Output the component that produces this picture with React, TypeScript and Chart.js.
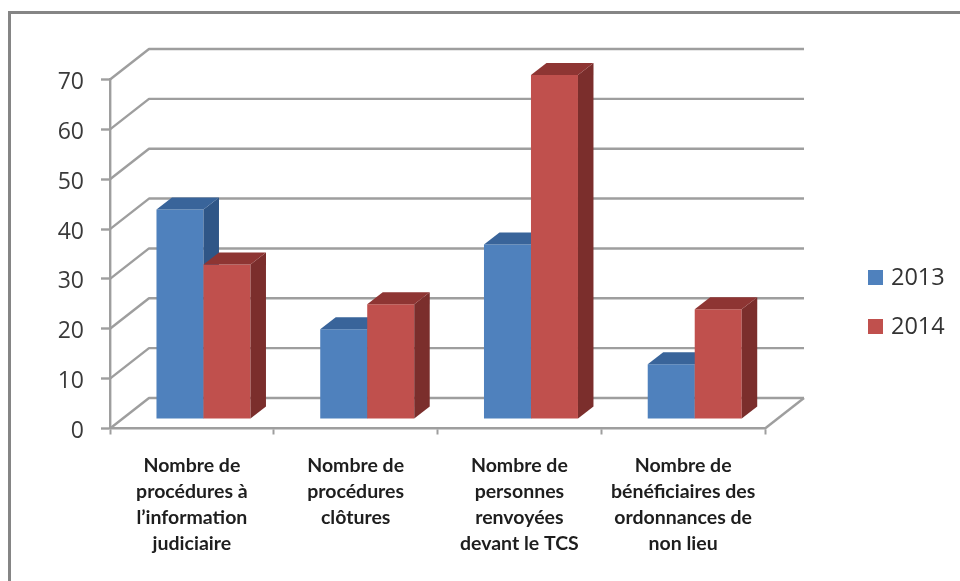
import React, { useEffect, useRef } from "react";
import { Chart, registerables } from "chart.js";

Chart.register(...registerables);

const categories = [
  ["Nombre de", "procédures à", "l’information", "judiciaire"],
  ["Nombre de", "procédures", "clôtures"],
  ["Nombre de", "personnes", "renvoyées", "devant le TCS"],
  ["Nombre de", "bénéficiaires des", "ordonnances de", "non lieu"],
];
const values2013 = [42, 18, 35, 11];
const values2014 = [31, 23, 69, 22];
const seriesNames = ["2013", "2014"];

const BLUE = "#4F81BD";
const RED = "#C0504D";
const GRID = "#9E9E9E";

const shiftX = 11.6;
const shiftY = -9.5;
const wallX = 39;
const wallY = -30.5;
const sideX = 15.5;
const sideY = -12;

const shades: Record<string, { side: string; top: string }> = {
  [BLUE]: { side: "#2F5687", top: "#39649A" },
  [RED]: { side: "#7B2E2C", top: "#8E3533" },
};

const poly = (ctx: CanvasRenderingContext2D, pts: number[][], fill: string) => {
  ctx.beginPath();
  pts.forEach(([x, y], i) => (i ? ctx.lineTo(x, y) : ctx.moveTo(x, y)));
  ctx.closePath();
  ctx.fillStyle = fill;
  ctx.fill();
};

const scene3d = {
  id: "scene3d",
  beforeDraw(chart: any) {
    const { ctx, width, height } = chart;
    ctx.save();
    ctx.fillStyle = "#ffffff";
    ctx.fillRect(0, 0, width, height);
    ctx.strokeStyle = "#858585";
    ctx.lineWidth = 3;
    ctx.beginPath();
    ctx.moveTo(9.5, height);
    ctx.lineTo(9.5, 12.5);
    ctx.lineTo(width, 12.5);
    ctx.stroke();
    ctx.restore();
  },
  beforeDatasetsDraw(chart: any) {
    const { ctx, chartArea, scales } = chart;
    const { left, right, bottom } = chartArea;
    ctx.save();
    ctx.strokeStyle = GRID;
    ctx.lineWidth = 2.4;
    ctx.lineJoin = "round";
    scales.y.ticks.forEach((t: any) => {
      const y = scales.y.getPixelForValue(t.value);
      ctx.beginPath();
      ctx.moveTo(left, y);
      ctx.lineTo(left + wallX, y + wallY);
      ctx.lineTo(right + wallX, y + wallY);
      ctx.stroke();
    });
    ctx.beginPath();
    ctx.moveTo(right, bottom);
    ctx.lineTo(right + wallX, bottom + wallY);
    ctx.stroke();
    ctx.restore();

    // Left-hand series first, so each bar's front covers its neighbour's side face.
    ctx.save();
    ctx.translate(shiftX, shiftY);
    chart.data.datasets.forEach((d: any, i: number) => {
      const meta = chart.getDatasetMeta(i);
      meta.controller.draw();
      const s = shades[d.backgroundColor];
      meta.data.forEach((bar: any) => {
        const l = bar.x - bar.width / 2;
        const r = bar.x + bar.width / 2;
        const t = bar.y;
        const b = bar.base;
        poly(ctx, [[r, t], [r + sideX, t + sideY], [r + sideX, b + sideY], [r, b]], s.side);
        poly(ctx, [[l, t], [l + sideX, t + sideY], [r + sideX, t + sideY], [r, t]], s.top);
      });
    });
    ctx.restore();
  },
  beforeDatasetDraw() {
    return false;
  },
  afterDraw(chart: any) {
    const { ctx } = chart;
    ctx.save();
    ctx.textBaseline = "middle";
    ctx.textAlign = "left";
    ctx.font = "23.5px 'Open Sans'";
    chart.data.datasets.forEach((d: any, i: number) => {
      const cy = 277.5 + i * 49;
      ctx.fillStyle = d.backgroundColor;
      ctx.fillRect(868, cy - 7.5, 15, 15);
      ctx.fillStyle = "#333333";
      ctx.fillText(d.label, 891, cy + 1);
    });
    ctx.restore();
  },
};

export default function App() {
  const ref = useRef<HTMLCanvasElement>(null);
  useEffect(() => {
    const chart = new Chart(ref.current as HTMLCanvasElement, {
      type: "bar",
      data: {
        labels: categories,
        datasets: [
          { label: seriesNames[0], data: values2013, backgroundColor: BLUE },
          { label: seriesNames[1], data: values2014, backgroundColor: RED },
        ],
      } as any,
      plugins: [scene3d],
      options: {
        animation: false,
        responsive: false,
        datasets: { bar: { categoryPercentage: 0.574, barPercentage: 1 } },
        layout: {
          autoPadding: false,
          padding: { left: 0, top: 79.5, right: 195, bottom: 0 },
        },
        plugins: { legend: { display: false }, title: { display: false }, tooltip: { enabled: false } },
        scales: {
          x: {
            afterFit: (s: any) => { s.height = 152.5; },
            grid: { drawOnChartArea: false, drawTicks: true, tickLength: 6, tickColor: GRID, tickWidth: 2 },
            border: { color: GRID, width: 2.4 },
            ticks: {
              autoSkip: false,
              maxRotation: 0,
              padding: 18,
              color: "#1E1E1E",
              font: { family: "Lato", size: 19.5, weight: "bold", lineHeight: 1.335 },
            },
          },
          y: {
            min: 0,
            max: 70,
            afterFit: (s: any) => { s.width = 110; },
            grid: { drawOnChartArea: false, drawTicks: true, tickLength: 9, tickColor: GRID, tickWidth: 2.4 },
            border: { color: GRID, width: 2.4 },
            ticks: {
              stepSize: 10,
              padding: 17,
              labelOffset: 3,
              color: "#3A3A3A",
              font: { family: "'Open Sans'", size: 23 },
            },
          },
        },
      } as any,
    });
    return () => chart.destroy();
  }, []);
  return (
    <div style={{ position: "absolute", left: 0, top: 0, width: 960, height: 581 }}>
      <canvas ref={ref} width={960} height={581} style={{ display: "block", filter: "blur(0.6px)" }} />
    </div>
  );
}
